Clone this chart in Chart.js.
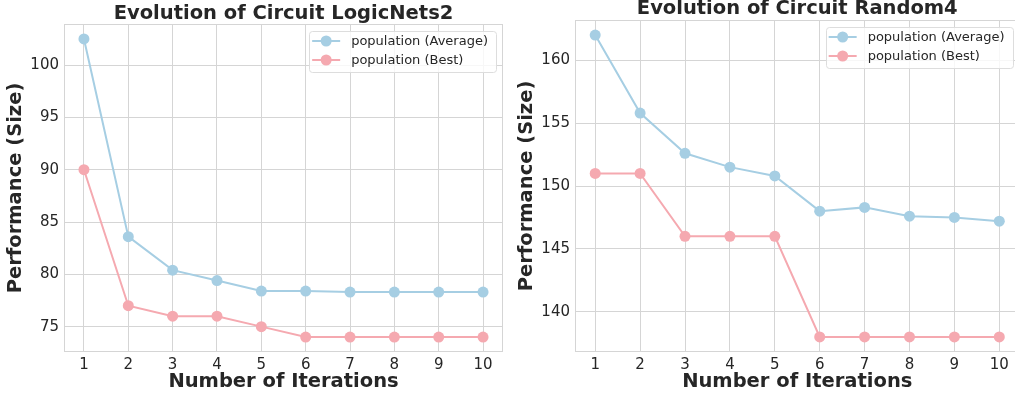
<!DOCTYPE html>
<html>
<head>
<meta charset="utf-8">
<script src="https://cdn.jsdelivr.net/npm/chart.js@4.4.1/dist/chart.umd.min.js"></script>
<style>
  html, body { margin: 0; padding: 0; background: #fff; overflow: hidden; }
  body { width: 1015px; height: 396px; position: relative; }
  .panel { position: absolute; top: 0; }
  #left { left: 0; }
  #right { left: 505px; }
</style>
</head>
<body>
<div class="panel" id="left"><canvas id="chartLogic" width="510" height="396"></canvas></div>
<div class="panel" id="right"><canvas id="chartRandom" width="520" height="396"></canvas></div>
<script>
// iterations on the x axis
const iterations = [1, 2, 3, 4, 5, 6, 7, 8, 9, 10];

// LogicNets2
const logicAvg  = [102.5, 83.6, 80.4, 79.4, 78.4, 78.4, 78.3, 78.3, 78.3, 78.3];
const logicBest = [90, 77, 76, 76, 75, 74, 74, 74, 74, 74];
const logicTicks = [75, 80, 85, 90, 95, 100];

// Random4
const randomAvg  = [162, 155.8, 152.6, 151.5, 150.8, 148.0, 148.3, 147.6, 147.5, 147.2];
const randomBest = [151, 151, 146, 146, 146, 138, 138, 138, 138, 138];
const randomTicks = [140, 145, 150, 155, 160];

const seriesNames = ['population (Average)', 'population (Best)'];
const colors = ['#a6cee3', '#f5a9b0'];

const FONT = "'DejaVu Sans', sans-serif";
const TEXT = '#262626';
const GRID = '#d5d5d5';

// frame, title and legend drawn on the canvas
const decor = {
  id: 'decor',
  beforeDatasetsDraw(chart) {
    const a = chart.chartArea, ctx = chart.ctx;
    ctx.save();
    ctx.strokeStyle = GRID;
    ctx.lineWidth = 1;
    ctx.strokeRect(Math.round(a.left) + 0.5, Math.round(a.top) + 0.5,
      Math.round(a.right - a.left) - 1, Math.round(a.bottom - a.top) - 1);
    ctx.restore();
  },
  afterDraw(chart, args, opts) {
    const a = chart.chartArea, ctx = chart.ctx;
    ctx.save();
    // title
    ctx.fillStyle = TEXT;
    ctx.font = 'bold 19.5px ' + FONT;
    ctx.textAlign = 'center';
    ctx.textBaseline = 'middle';
    ctx.fillText(opts.title, (a.left + a.right) / 2, opts.titleY);

    // legend box
    ctx.font = '13px ' + FONT;
    const labels = chart.data.datasets.map(d => d.label);
    const tw = Math.max(...labels.map(l => ctx.measureText(l).width));
    const w = 42 + tw + 8, h = 41;
    const L = a.right - 7 - w, T = a.top + 7;
    ctx.fillStyle = 'rgba(255,255,255,0.8)';
    ctx.strokeStyle = '#dddddd';
    ctx.lineWidth = 1;
    ctx.beginPath();
    ctx.roundRect(Math.round(L) + 0.5, T + 0.5, Math.round(w), h, 3);
    ctx.fill();
    ctx.stroke();
    chart.data.datasets.forEach((d, i) => {
      const y = T + 10 + i * 19;
      ctx.strokeStyle = d.borderColor;
      ctx.lineWidth = 2;
      ctx.beginPath();
      ctx.moveTo(L + 3, y);
      ctx.lineTo(L + 31, y);
      ctx.stroke();
      ctx.fillStyle = d.backgroundColor;
      ctx.beginPath();
      ctx.arc(L + 17, y, 5.5, 0, Math.PI * 2);
      ctx.fill();
      ctx.fillStyle = TEXT;
      ctx.textAlign = 'left';
      ctx.fillText(d.label, L + 42, y + 1);
    });
    ctx.restore();
  }
};

function makeChart(id, title, avg, best, yTicks, lay) {
  const all = avg.concat(best);
  const lo = Math.min(...all), hi = Math.max(...all);
  const m = (hi - lo) * 0.05;
  const xm = (iterations[iterations.length - 1] - iterations[0]) * 0.05;

  const toPts = vals => iterations.map((x, i) => ({ x: x, y: vals[i] }));

  return new Chart(document.getElementById(id), {
    type: 'line',
    data: {
      datasets: [avg, best].map((vals, i) => ({
        label: seriesNames[i],
        data: toPts(vals),
        borderColor: colors[i],
        backgroundColor: colors[i],
        borderWidth: 2,
        pointRadius: 5.5,
        pointHoverRadius: 5.5,
        pointBorderWidth: 0,
        tension: 0
      }))
    },
    options: {
      responsive: false,
      animation: false,
      events: [],
      layout: { padding: { top: lay.top, right: lay.right, left: 0, bottom: 0 } },
      scales: {
        x: {
          type: 'linear',
          min: iterations[0] - xm,
          max: iterations[iterations.length - 1] + xm,
          afterBuildTicks: s => { s.ticks = iterations.map(v => ({ value: v })); },
          afterFit: s => { s.height = 44; },
          grid: { color: GRID, drawTicks: false },
          border: { display: false },
          ticks: { color: TEXT, font: { family: FONT, size: 15 }, padding: 4, maxRotation: 0, autoSkip: false },
          title: { display: true, text: 'Number of Iterations', color: TEXT,
                   font: { family: FONT, size: 19.5, weight: 'bold' }, padding: { top: 0, bottom: 2 } }
        },
        y: {
          min: lo - m,
          max: hi + m,
          afterBuildTicks: s => { s.ticks = yTicks.map(v => ({ value: v })); },
          afterFit: s => { s.width = lay.yWidth; },
          grid: { color: GRID, drawTicks: false },
          border: { display: false },
          ticks: { color: TEXT, font: { family: FONT, size: 15 }, padding: 5 },
          title: { display: true, text: 'Performance (Size)', color: TEXT,
                   font: { family: FONT, size: 19.5, weight: 'bold' }, padding: { top: lay.yTitlePad, bottom: 0 } }
        }
      },
      plugins: {
        legend: { display: false },
        tooltip: { enabled: false },
        decor: { title: title, titleY: lay.titleY }
      }
    },
    plugins: [decor]
  });
}

makeChart('chartLogic', 'Evolution of Circuit LogicNets2', logicAvg, logicBest, logicTicks,
  { top: 24, right: 7, yWidth: 64, yTitlePad: 4, titleY: 14 });
makeChart('chartRandom', 'Evolution of Circuit Random4', randomAvg, randomBest, randomTicks,
  { top: 20, right: 5, yWidth: 70, yTitlePad: 10, titleY: 9 });
</script>
</body>
</html>
